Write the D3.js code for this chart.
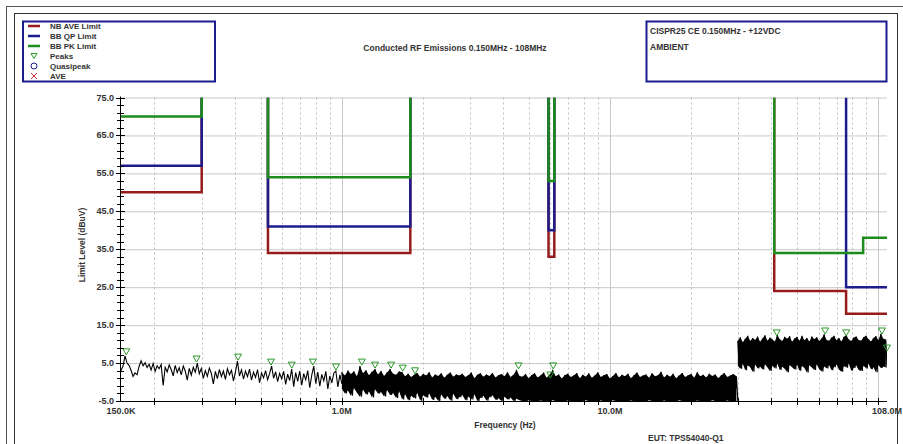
<!DOCTYPE html>
<html>
<head>
<meta charset="utf-8">
<script src="https://cdn.jsdelivr.net/npm/d3@7"></script>
<style>
  body { margin: 0; background: #fff; }
  svg { display: block; font-family: "Liberation Sans", Arial, sans-serif; }
</style>
</head>
<body>
<svg id="chart" width="903" height="444"></svg>
<script>
// limit lines, one band per entry: [start MHz, stop MHz, level dBuV]
var nbAveLimit = [[0.15, 0.30, 50], [0.53, 1.8, 34], [5.9, 6.2, 33], [41, 76, 24], [76, 108, 18]];
var bbQpLimit  = [[0.15, 0.30, 57], [0.53, 1.8, 41], [5.9, 6.2, 40], [76, 108, 25]];
var bbPkLimit  = [[0.15, 0.30, 70], [0.53, 1.8, 54], [5.9, 6.2, 53], [41, 88, 34], [88, 108, 38]];

// axis ticks
var yTickValues = [75, 65, 55, 45, 35, 25, 15, 5, -5];
var xTickValues = [0.15, 1, 10, 108];
var xTickLabels = ["150.0K", "1.0M", "10.0M", "108.0M"];
var gridMinor = [0.2, 0.3, 0.4, 0.5, 0.6, 0.7, 0.8, 0.9, 2, 3, 4, 5, 6, 7, 8, 9, 20, 30, 40, 50, 60, 70, 80, 90];
var gridDecade = [1, 10, 100];

// measured trace, 0.15 - 1 MHz (single line)
var sweepAStart = 0.15, sweepAStop = 1.0;
var traceA = [3.0, 4.2, 6.9, 5.0, 4.4, 3.1, 1.5, 2.4, 1.9, 4.1,
              5.6, 4.3, 5.1, 3.8, 4.7, 3.2, 4.9, 2.8, 4.3, 3.5,
              4.6, -0.9, 3.9, 2.7, 4.5, 3.3, 1.6, 4.4, 2.5, 3.8,
              1.9, 4.2, 2.9, 0.5, 3.6, 1.8, 3.9, 2.6, 5.0, 2.2,
              3.6, 1.0, 3.0, 1.5, 3.7, 2.3, -0.5, 2.8, 0.9, 3.3,
              1.4, 2.9, 0.7, 3.5, 1.9, 3.1, 0.3, 2.7, 5.5, 1.6,
              3.2, 0.8, 2.9, 1.4, 3.4, 0.5, 2.6, 1.2, 3.3, -0.2,
              2.4, 1.1, 3.0, 0.6, 2.2, 4.2, 1.0, 2.7, 0.1, 2.3,
              0.9, 2.8, -0.6, 2.1, 0.4, 3.4, -1.2, 2.5, 0.2, 2.9,
              -0.8, 2.2, 0.6, 3.0, -1.5, 1.8, 4.2, -0.4, 2.6, -1.1,
              2.0, 0.3, 2.8, -1.8, 1.6, -0.2, 2.4, 2.9, -1.3, 1.9, -0.5];

// measured trace, 1 - 30 MHz (dense, read as max / min of each bin)
var sweepBStart = 1.0, sweepBStop = 30;
var traceBHigh = [2.6, 1.7, 3.0, 2.1, 2.8, 1.5, 4.2, 2.3, 3.1, 1.8, 2.7, 3.4, 2.0, 2.9, 1.6, 2.5, 3.4, 2.2, 1.9, 2.8,
                  2.6, 1.5, 2.2, 1.3, 1.9, 2.4, 1.4, 2.1, 1.7, 2.6, 1.2, 2.0, 1.6, 2.3, 1.1, 1.9, 2.5, 1.4, 2.0, 1.7,
                  2.2, 1.3, 1.8, 2.5, 1.0, 1.9, 2.3, 1.4, 2.0, 1.6, 2.4, 1.2, 1.8, 2.1, 1.5, 2.6, 1.3, 1.9, 3.2, 1.6,
                  1.4, 2.1, 1.0, 1.8, 2.3, 1.2, 1.7, 2.5, 1.1, 1.9, 3.2, 1.5, 2.0, 0.9, 1.8, 2.2, 1.3, 1.7, 2.4, 1.0,
                  1.9, 1.4, 2.3, 1.1, 1.7, 2.6, 1.3, 1.8, 2.1, 0.9, 1.6, 2.4, 1.2, 1.9, 1.5, 2.2, 1.0, 1.8, 2.5, 1.3,
                  1.7, 2.0, 1.1, 2.3, 1.5, 1.8, 2.7, 1.2, 1.9, 1.4, 2.2, 1.0, 1.7, 2.4, 1.3, 1.8, 2.1, 1.1, 2.6, 1.5,
                  1.9, 1.2, 2.2, 1.6, 2.0, 1.0, 1.8, 2.4, 1.3, 1.7, 2.1, 1.5];
var traceBLow  = [-1.8, -3.0, -2.2, -3.6, -1.6, -2.8, -3.9, -2.0, -3.3, -2.5, -4.1, -1.9, -3.0, -2.6, -3.8, -2.1, -3.4, -2.9, -4.2, -2.4,
                  -4.6, -3.2, -4.8, -3.6, -4.3, -2.8, -4.9, -3.5, -4.1, -3.0, -4.7, -3.9, -5.0, -3.3, -4.4, -3.7, -4.9, -3.1, -4.5, -4.0,
                  -3.4, -4.8, -3.8, -4.6, -3.2, -5.0, -4.2, -3.6, -4.9, -4.0, -3.5, -4.7, -4.3, -5.0, -3.9, -4.6, -4.1, -5.0, -4.4, -4.8,
                  -5.0, -5.0, -4.8, -5.0, -5.0, -5.0, -4.9, -5.0, -5.0, -5.0, -4.8, -5.0, -5.0, -5.0, -5.0, -4.9, -5.0, -5.0, -5.0, -5.0,
                  -5.0, -4.8, -5.0, -5.0, -5.0, -5.0, -4.9, -5.0, -5.0, -5.0, -4.8, -5.0, -5.0, -5.0, -5.0, -5.0, -4.9, -5.0, -5.0, -5.0,
                  -5.0, -5.0, -4.8, -5.0, -5.0, -5.0, -5.0, -4.9, -5.0, -5.0, -5.0, -5.0, -4.8, -5.0, -5.0, -5.0, -5.0, -5.0, -4.9, -5.0,
                  -5.0, -5.0, -5.0, -4.8, -5.0, -5.0, -5.0, -5.0, -4.9, -5.0, -5.0, -5.0];

// measured trace, 30 - 108 MHz
var sweepCStart = 30, sweepCStop = 108;
var traceCHigh = [10.9, 11.8, 10.5, 11.4, 12.2, 10.8, 11.6, 11.1, 12.0, 10.6,
                  11.5, 12.3, 10.9, 11.7, 11.2, 10.7, 12.4, 11.3, 10.8, 11.9,
                  11.4, 12.1, 10.6, 11.5, 11.9, 10.9, 12.2, 11.0, 11.6, 10.7,
                  12.0, 11.3, 11.8, 10.8, 11.5, 12.6, 11.1, 10.9, 11.7, 12.2,
                  11.0, 11.6, 10.7, 11.9, 12.3, 11.2, 10.8, 11.7, 12.0, 11.1,
                  10.9, 11.8, 12.2, 11.3, 10.7, 11.6, 12.1, 11.0, 12.7, 11.4, 11.2];
var traceCLow  = [4.3, 3.5, 4.8, 3.1, 4.4, 3.9, 2.7, 4.6, 3.6, 4.1,
                  3.3, 4.7, 3.8, 2.9, 4.3, 3.6, 4.9, 3.2, 4.0, 3.5,
                  2.6, 4.5, 3.9, 3.3, 4.6, 3.0, 4.2, 3.7, 2.5, 4.4,
                  3.8, 3.2, 4.7, 3.4, 2.8, 4.1, 3.6, 4.5, 3.1, 3.9,
                  4.6, 3.3, 2.7, 4.2, 3.8, 4.9, 3.0, 3.7, 4.4, 3.2,
                  2.9, 4.3, 3.6, 4.8, 3.4, 3.9, 2.6, 4.5, 3.7, 4.1, 3.8];

// peak markers
var peakFreq  = [0.157, 0.287, 0.410, 0.544, 0.650, 0.779, 0.951, 1.187, 1.33, 1.526, 1.687, 1.875, 4.56, 5.99, 6.14, 41.9, 63.5, 76.1, 103.4, 108];
var peakLevel = [6.9, 5.0, 5.5, 4.2, 3.4, 4.2, 2.9, 4.2, 3.4, 3.4, 2.6, 1.9, 3.2, 0.8, 3.2, 11.9, 12.4, 11.9, 12.4, 7.9];

var red = "#961c1c", navy = "#1c1c8c", green = "#1c8c1c", peakGreen = "#2a9a2a";
var textColor = "#333";

var svg = d3.select("#chart");

var x = d3.scaleLog().domain([0.15, 108]).range([121, 887]);
var y = d3.scaleLinear().domain([-5, 75]).range([401, 97.5]);

//Frames
svg.append("rect").attr("x", 6.5).attr("y", 6.5).attr("width", 920).attr("height", 460)
   .attr("fill", "none").attr("stroke", "#555");
svg.append("rect").attr("x", 14.5).attr("y", 13.5).attr("width", 883).attr("height", 460)
   .attr("fill", "none").attr("stroke", "#333");

//Legend box
svg.append("rect").attr("x", 23).attr("y", 21.5).attr("width", 192).attr("height", 60)
   .attr("fill", "none").attr("stroke", navy).attr("stroke-width", 2);
var legendRows = [
    {label: "NB AVE Limit", kind: "line", color: red},
    {label: "BB QP Limit", kind: "line", color: navy},
    {label: "BB PK Limit", kind: "line", color: green},
    {label: "Peaks", kind: "tri", color: peakGreen},
    {label: "Quasipeak", kind: "circle", color: navy},
    {label: "AVE", kind: "cross", color: "#c83232"}
];
legendRows.forEach(function(d, i) {
    var ly = 26 + i * 10;
    if (d.kind === "line") {
        svg.append("line").attr("x1", 28).attr("x2", 40).attr("y1", ly).attr("y2", ly)
           .attr("stroke", d.color).attr("stroke-width", 2.5);
    } else if (d.kind === "tri") {
        svg.append("path").attr("d", "M-3,-2.5L3,-2.5L0,2.5Z").attr("transform", "translate(34," + ly + ")")
           .attr("fill", "none").attr("stroke", d.color);
    } else if (d.kind === "circle") {
        svg.append("circle").attr("cx", 34).attr("cy", ly).attr("r", 3)
           .attr("fill", "none").attr("stroke", d.color);
    } else {
        svg.append("path").attr("d", "M-3,-3L3,3M-3,3L3,-3").attr("transform", "translate(34," + ly + ")")
           .attr("stroke", d.color);
    }
    drawText(50, ly + 3, d.label, "bold", 8, "start");
});

//Title
drawText(455, 51, "Conducted RF Emissions 0.150MHz - 108MHz", "bold", 8.5, "middle");

//Info box
svg.append("rect").attr("x", 646.5).attr("y", 21.5).attr("width", 240).attr("height", 60)
   .attr("fill", "none").attr("stroke", navy).attr("stroke-width", 2);
drawText(650, 34, "CISPR25 CE 0.150MHz - +12VDC", "bold", 8.5, "start");
drawText(650, 50, "AMBIENT", "bold", 8.5, "start");

//Grid
var grid = svg.append("g");
grid.selectAll("line.h").data(yTickValues.filter(function(v) { return v > -5; })).enter().append("line")
    .attr("x1", x(0.15)).attr("x2", x(108))
    .attr("y1", function(d) { return y(d) + 0.5; }).attr("y2", function(d) { return y(d) + 0.5; })
    .attr("stroke", "#c8c8c8");
grid.selectAll("line.vm").data(gridMinor).enter().append("line")
    .attr("x1", function(d) { return Math.round(x(d)) + 0.5; }).attr("x2", function(d) { return Math.round(x(d)) + 0.5; })
    .attr("y1", y(75)).attr("y2", y(-5))
    .attr("stroke", "#bdbdbd").attr("stroke-dasharray", "2,3");
grid.selectAll("line.vd").data(gridDecade).enter().append("line")
    .attr("x1", function(d) { return Math.round(x(d)) + 0.5; }).attr("x2", function(d) { return Math.round(x(d)) + 0.5; })
    .attr("y1", y(75)).attr("y2", y(-5))
    .attr("stroke", "#c8c8c8");

//Clip for plot area
svg.append("clipPath").attr("id", "plotClip").append("rect")
   .attr("x", x(0.15)).attr("y", y(75)).attr("width", x(108) - x(0.15)).attr("height", y(-5) - y(75));

//Limit lines
drawLimit(nbAveLimit, red);
drawLimit(bbQpLimit, navy);
drawLimit(bbPkLimit, green);

//Trace
var traceG = svg.append("g").attr("clip-path", "url(#plotClip)");
var traceLine = d3.line().x(function(d) { return x(d[0]); }).y(function(d) { return y(d[1]); });
var lineA = sweepFreqs(sweepAStart, sweepAStop, traceA.length).map(function(f, i) { return [f, traceA[i]]; });
traceG.append("path").datum(lineA).attr("d", traceLine)
      .attr("fill", "none").attr("stroke", "#000").attr("stroke-width", 1.1);
drawBand(sweepBStart, sweepBStop, traceBLow, traceBHigh);
drawBand(sweepCStart, sweepCStop, traceCLow, traceCHigh);

//Peaks
svg.append("g").selectAll("path").data(peakFreq).enter().append("path")
   .attr("d", "M-3.5,-3L3.5,-3L0,3Z")
   .attr("transform", function(d, i) { return "translate(" + x(d) + "," + (y(peakLevel[i]) - 4) + ")"; })
   .attr("fill", "none").attr("stroke", peakGreen).attr("stroke-width", 1);

//Axes
var axisG = svg.append("g");
axisG.append("line").attr("x1", 120.5).attr("x2", 120.5).attr("y1", y(75) - 1).attr("y2", y(-5) + 1)
     .attr("stroke", "#000");
axisG.append("line").attr("x1", 120).attr("x2", x(108)).attr("y1", 401.5).attr("y2", 401.5)
     .attr("stroke", "#000");
// minor y ticks every 2 dB
axisG.selectAll("line.ym").data(d3.range(-5, 76, 2)).enter().append("line")
     .attr("x1", 117).attr("x2", 124)
     .attr("y1", function(d) { return Math.round(y(d)) + 0.5; }).attr("y2", function(d) { return Math.round(y(d)) + 0.5; })
     .attr("stroke", "#000");
axisG.selectAll("line.yM").data(yTickValues).enter().append("line")
     .attr("x1", 116).attr("x2", 125)
     .attr("y1", function(d) { return Math.round(y(d)) + 0.5; }).attr("y2", function(d) { return Math.round(y(d)) + 0.5; })
     .attr("stroke", "#000");
yTickValues.forEach(function(v) {
    drawText(114, y(v) + 3, v.toFixed(1), "bold", 9, "end");
});
axisG.selectAll("line.xm").data(gridMinor.concat(gridDecade)).enter().append("line")
     .attr("x1", function(d) { return Math.round(x(d)) + 0.5; }).attr("x2", function(d) { return Math.round(x(d)) + 0.5; })
     .attr("y1", 398).attr("y2", 405)
     .attr("stroke", "#000");
xTickValues.forEach(function(v, i) {
    drawText(x(v), 414, xTickLabels[i], "bold", 9, "middle");
});

//Axis titles
drawText(505, 428, "Frequency (Hz)", "bold", 8.5, "middle");
svg.append("text").attr("transform", "translate(85,245) rotate(-90)")
   .attr("text-anchor", "middle").style("font-weight", "bold").style("font-size", "8.5px")
   .attr("fill", textColor).text("Limit Level (dBuV)");
drawText(648, 441, "EUT: TPS54040-Q1", "bold", 8.5, "start");

function sweepFreqs(start, stop, n) {
    return d3.range(n).map(function(i) { return start * Math.pow(stop / start, i / (n - 1)); });
}

// each bin gives its max then its min reading: filled between them, plus the zig-zag trace on top
function drawBand(start, stop, low, high) {
    var freqs = sweepFreqs(start, stop, low.length * 2);
    var pts = [];
    var bins = [];
    low.forEach(function(v, i) {
        pts.push([freqs[2 * i], high[i]]);
        pts.push([freqs[2 * i + 1], low[i]]);
        bins.push([freqs[2 * i], low[i], high[i]]);
    });
    traceG.append("path").datum(bins)
          .attr("d", d3.area().x(function(d) { return x(d[0]); })
                              .y0(function(d) { return y(d[1]); })
                              .y1(function(d) { return y(d[2]); }))
          .attr("fill", "#000");
    traceG.append("path").datum(pts).attr("d", traceLine)
          .attr("fill", "none").attr("stroke", "#000").attr("stroke-width", 1.2);
}

function drawLimit(bands, color) {
    var top = 75, lo = 0.15, hi = 108;
    var p = d3.path();
    bands.forEach(function(b, i) {
        var prev = bands[i - 1], next = bands[i + 1];
        var joined = prev && prev[1] === b[0];
        if (joined) {
            p.lineTo(x(b[0]), y(b[2]));
        } else if (b[0] > lo) {
            p.moveTo(x(b[0]), y(top));
            p.lineTo(x(b[0]), y(b[2]));
        } else {
            p.moveTo(x(b[0]), y(b[2]));
        }
        p.lineTo(x(b[1]), y(b[2]));
        if (!(next && next[0] === b[1]) && b[1] < hi) {
            p.lineTo(x(b[1]), y(top));
        }
    });
    svg.append("path").attr("d", p.toString()).attr("clip-path", "url(#plotClip)")
       .attr("fill", "none").attr("stroke", color).attr("stroke-width", 2.5);
}

function drawText(x_axis, y_axis, text, font_weight, size, anchor) {
    svg.append("text")
       .attr("x", x_axis)
       .attr("y", y_axis)
       .attr("text-anchor", anchor)
       .attr("fill", textColor)
       .style("font-weight", font_weight)
       .style("font-size", size + "px")
       .text(text);
}
</script>
</body>
</html>
